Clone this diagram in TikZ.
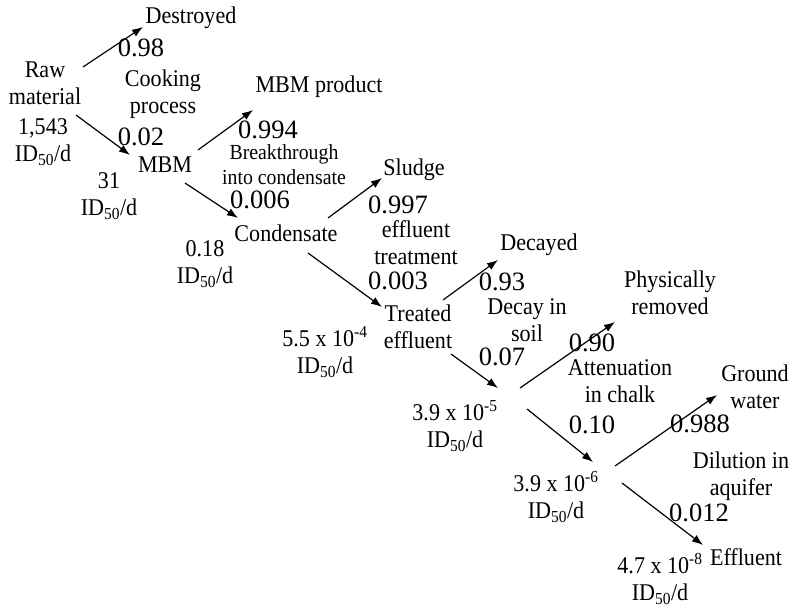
\documentclass[tikz,border=0pt]{standalone}
\usepackage{fontspec}
\setmainfont{Liberation Serif}
\newfontfamily\labfont{Liberation Serif}[FakeStretch=0.92]
\usetikzlibrary{arrows.meta}
\newcommand\flbl{\labfont\fontsize{24}{27}\selectfont}
\newcommand\fnum{\fontsize{26.5}{30}\selectfont}
\newcommand\fsml{\labfont\fontsize{21.5}{25}\selectfont}
\newcommand\idd{ID\textsubscript{50}/d}
\begin{document}
\begin{tikzpicture}[x=1pt,y=-1pt,
  lab/.style={inner sep=0pt,align=center,font=\flbl},
  num/.style={inner sep=0pt,align=center,font=\fnum},
  sml/.style={inner sep=0pt,align=center,font=\fsml},
  arr/.style={line width=1.2pt,-{Latex[length=11pt,width=8pt]}}]
\useasboundingbox (0,0) rectangle (791,609);
% nodes
\node[lab] (destroyed) at (191,18) {Destroyed};
\node[num] (p098) at (141,48) {0.98};
\node[lab] (raw) at (45,83) {Raw\\material};
\node[lab] (cooking) at (163,94) {Cooking\\process};
\node[lab] (v1543) at (43,142) {1,543\\\idd};
\node[num] (p002) at (141,137) {0.02};
\node[lab] (mbm) at (165,165) {MBM};
\node[lab] (v31) at (109,196) {31\\\idd};
\node[lab] (mbmprod) at (319,87) {MBM product};
\node[num] (p0994) at (268,130) {0.994};
\node[sml] (breakthrough) at (284,165) {Breakthrough\\into condensate};
\node[num] (p0006) at (260,200) {0.006};
\node[lab] (condensate) at (286,233) {Condensate};
\node[lab] (v018) at (205,264) {0.18\\\idd};
\node[lab] (sludge) at (414,170) {Sludge};
\node[num] (p0997) at (398,205) {0.997};
\node[lab] (efftreat) at (416,243) {effluent\\treatment};
\node[num] (p0003) at (398,281) {0.003};
\node[lab] (treated) at (418,327) {Treated\\effluent};
\node[lab] (v55) at (325,352) {5.5 x 10\textsuperscript{-4}\\\idd};
\node[lab] (decayed) at (539,245) {Decayed};
\node[num] (p093) at (502,282) {0.93};
\node[lab] (decaysoil) at (527,320) {Decay in\\soil};
\node[num] (p007) at (502,357) {0.07};
\node[lab] (physically) at (670,293) {Physically\\removed};
\node[num] (p090) at (592,343) {0.90};
\node[lab] (attenuation) at (620,381) {Attenuation\\in chalk};
\node[lab] (v39a) at (455,426) {3.9 x 10\textsuperscript{-5}\\\idd};
\node[num] (p010) at (592,425) {0.10};
\node[lab] (ground) at (755,387) {Ground\\water};
\node[num] (p0988) at (700,424) {0.988};
\node[lab] (dilution) at (741,476) {Dilution in\\aquifer};
\node[lab] (v39b) at (556,497) {3.9 x 10\textsuperscript{-6}\\\idd};
\node[num] (p0012) at (699,513) {0.012};
\node[lab] (effluent) at (746,557) {Effluent};
\node[lab] (v47) at (660,579) {4.7 x 10\textsuperscript{-8}\\\idd};
\coordinate (j1) at (510,398);
\coordinate (j2) at (605,473);
% connectors
\draw[arr] ([shift={(38,-16)}]raw.center) -- ([shift={(-48,9)}]destroyed.center);
\draw[arr] ([shift={(31,32)}]raw.center) -- ([shift={(-35,-10)}]mbm.center);
\draw[arr] ([shift={(33,-15)}]mbm.center) -- ([shift={(-66,23)}]mbmprod.center);
\draw[arr] ([shift={(20,18)}]mbm.center) -- ([shift={(-48,-15)}]condensate.center);
\draw[arr] ([shift={(42,-15)}]condensate.center) -- ([shift={(-32,8)}]sludge.center);
\draw[arr] ([shift={(22,20)}]condensate.center) -- ([shift={(-36,-20)}]treated.center);
\draw[arr] ([shift={(25,-27)}]treated.center) -- ([shift={(-41,15)}]decayed.center);
\draw[arr] ([shift={(33,27)}]treated.center) -- ([shift={(-12,-10)}]j1);
\draw[arr] ([shift={(10,-10)}]j1) -- ([shift={(-55,29)}]physically.center);
\draw[arr] ([shift={(17,11)}]j1) -- ([shift={(-12,-11)}]j2);
\draw[arr] ([shift={(10,-7)}]j2) -- ([shift={(-38,8)}]ground.center);
\draw[arr] ([shift={(17,10)}]j2) -- ([shift={(-43,-12)}]effluent.center);
\end{tikzpicture}
\end{document}
